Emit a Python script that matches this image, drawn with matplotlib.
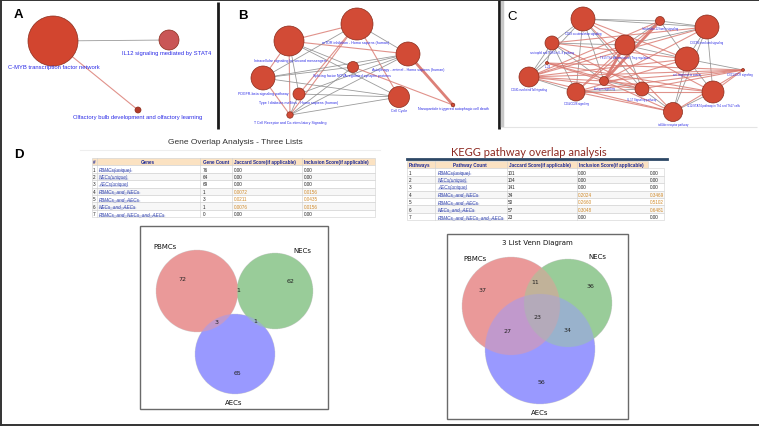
import numpy as np
import matplotlib.pyplot as plt
from matplotlib.patches import Circle, Rectangle

# ---------------- DATA ----------------
# Panel A network
a_names = ["C-MYB transcription factor network",
           "IL12 signaling mediated by STAT4",
           "Olfactory bulb development and olfactory learning"]
a_edges = [(0, 1, 'g'), (0, 2, 'r')]

# Panel B network
b_names = ["mTOR inhibition - Homo sapiens (human)",
           "Intracellular signaling by second messengers",
           "Autophagy - animal - Homo sapiens (human)",
           "PDGFR-beta signaling pathway",
           "Splicing factor NOVA regulated synaptic proteins",
           "Type I diabetes mellitus - Homo sapiens (human)",
           "Cell Cycle",
           "T Cell Receptor and Co-stimulatory Signaling",
           "Nanoparticle triggered autophagic cell death"]
b_edges = [(1, 0, 'r'), (1, 2, 'r'), (0, 2, 'g'), (1, 3, 'r'), (1, 7, 'r'), (1, 5, 'g'),
           (1, 6, 'g'), (1, 4, 'g'), (0, 7, 'r'), (0, 5, 'r'), (0, 6, 'r'), (2, 3, 'g'),
           (2, 4, 'g'), (2, 8, 'R'), (2, 5, 'g'), (2, 7, 'g'), (3, 7, 'r'), (3, 6, 'g'),
           (3, 4, 'g'), (4, 8, 'r'), (5, 6, 'g'), (7, 6, 'g'), (7, 4, 'g'), (5, 7, 'g'),
           (0, 3, 'g')]

# Panel C network
c_names = ["CD28 co-stimulation signaling",
           "neutrophil and TLR4 in IL-8 pathway",
           "Th17/Th1 differentiation / Treg regulation",
           "Interleukin-12 family signaling",
           "CXCR4 mediated signaling",
           "cell migration in cancer",
           "CD40-mediated/Toll signaling",
           "IL-23",
           "Antigen signaling",
           "CD4/CD28 signaling",
           "IL-17 Signaling pathway",
           "IL12/STAT4 pathway in Th1 and Th17 cells",
           "toll-like receptor pathway",
           "CXCL/CCR signaling"]
c_edges = [(0, 1, 'g'), (0, 3, 'g'), (0, 4, 'g'), (0, 6, 'g'), (0, 9, 'g'), (0, 8, 'g'),
           (1, 6, 'g'), (1, 7, 'g'), (1, 2, 'g'), (1, 9, 'g'), (3, 4, 'g'), (3, 5, 'g'),
           (4, 5, 'g'), (4, 11, 'g'), (4, 12, 'g'), (5, 11, 'g'), (5, 12, 'g'), (5, 13, 'g'),
           (6, 9, 'g'), (6, 7, 'g'), (2, 5, 'g'), (2, 4, 'g'), (8, 10, 'g'), (10, 12, 'g'),
           (11, 12, 'g'), (9, 10, 'g'), (1, 8, 'g'), (0, 10, 'g'), (3, 2, 'g'), (2, 10, 'g'),
           (0, 2, 'r'), (2, 8, 'R'), (3, 8, 'R'), (2, 9, 'r'), (0, 5, 'r'), (1, 4, 'r'),
           (1, 5, 'r'), (6, 2, 'r'), (6, 8, 'r'), (6, 10, 'r'), (6, 12, 'r'), (6, 13, 'r'),
           (7, 13, 'r'), (7, 8, 'r'), (7, 10, 'r'), (9, 12, 'r'), (9, 13, 'r'), (8, 13, 'r'),
           (8, 12, 'r'), (8, 11, 'r'), (10, 13, 'r'), (11, 13, 'r'), (3, 9, 'r'), (3, 6, 'r'),
           (4, 8, 'r'), (4, 6, 'r'), (5, 6, 'r'), (5, 9, 'r'), (2, 11, 'r'), (9, 11, 'r'),
           (0, 12, 'r'), (12, 13, 'r'), (7, 11, 'r'), (1, 10, 'r')]

# Panel D tables
gene_sets = ["PBMCs(unique)", "NECs(unique)", "AECs(unique)", "PBMCs_and_NECs",
             "PBMCs_and_AECs", "NECs_and_AECs", "PBMCs_and_NECs_and_AECs"]
gene_counts = [76, 64, 69, 1, 3, 1, 0]
gene_jaccard = ["0.00", "0.00", "0.00", "0.0072", "0.0211", "0.0076", "0.00"]
gene_inclusion = ["0.00", "0.00", "0.00", "0.0156", "0.0435", "0.0156", "0.00"]

kegg_sets = gene_sets
kegg_counts = [101, 104, 141, 34, 50, 57, 23]
kegg_jaccard = ["0.00", "0.00", "0.00", "0.2024", "0.2660", "0.3048", "0.00"]
kegg_inclusion = ["0.00", "0.00", "0.00", "0.3469", "0.5102", "0.6481", "0.00"]

# Venn diagrams: regions order A-only, B-only, AB, C-only, AC, BC, ABC
venn_sets = ["PBMCs", "NECs", "AECs"]
gene_venn = [72, 62, 1, 65, 3, 1, 0]
kegg_venn = [37, 36, 11, 56, 27, 34, 23]

# ---------------- LAYOUT ----------------
W, H = 759, 427
fig = plt.figure(figsize=(W / 100, H / 100), dpi=100)
ax = fig.add_axes([0, 0, 1, 1])
ax.set_xlim(0, W)
ax.set_ylim(H, 0)
ax.set_aspect('auto')
ax.axis('off')

SANS = 'Liberation Sans'
LBL = '#2a2ae6'
NODE = '#d24b36'
NODE_EDGE = '#8a2c1c'
EDGE_STYLE = {'g': dict(color='#8a8a8a', lw=0.6, alpha=0.85),
              'r': dict(color='#d9776e', lw=0.8, alpha=0.8),
              'R': dict(color='#d66a60', lw=2.0, alpha=0.85)}


def draw_network(pos, rad, lblpos, names, edges, fs, colors=None):
    for i, j, s in edges:
        ax.plot([pos[i][0], pos[j][0]], [pos[i][1], pos[j][1]], zorder=2,
                solid_capstyle='round', **EDGE_STYLE[s])
    for k, ((x, y), r) in enumerate(zip(pos, rad)):
        c = colors[k] if colors else NODE
        ax.add_patch(Circle((x, y), r, facecolor=c, edgecolor=NODE_EDGE, lw=0.5, zorder=3))
    for (x, y), t in zip(lblpos, names):
        ax.text(x, y, t, fontsize=fs, family=SANS, color=LBL, ha='center', va='center', zorder=4)


# Panel A
a_pos = [(53, 42), (169, 41), (138, 111)]
a_rad = [25, 10, 3]
a_lbl = [(54, 68), (167, 54), (138, 117.5)]
draw_network(a_pos, a_rad, a_lbl, a_names, a_edges, 4.2,
             colors=['#d2452f', '#c95656', '#b33a2a'])

# Panel B
b_pos = [(357, 25), (289, 42), (408, 55), (263, 79), (353, 68), (299, 95), (399, 98),
         (290, 116), (453, 106)]
b_rad = [16, 15, 12, 12, 5.5, 6, 10.5, 3.2, 1.8]
b_lbl = [(356, 43), (290, 61), (408, 70), (263, 94), (352, 76), (299, 103), (399, 111),
         (290, 123), (453, 109)]
draw_network(b_pos, b_rad, b_lbl, b_names, b_edges, 2.6)

# Panel C
c_pos = [(583, 20), (552, 44), (625, 46), (660, 22), (707, 28), (687, 60), (529, 78),
         (547, 64), (604, 82), (576, 93), (642, 90), (713, 93), (673, 113), (743, 71)]
c_rad = [12, 7, 10, 4.5, 12, 12, 10, 1.5, 4.5, 9, 7, 11, 9.5, 1.5]
c_lbl = [(583, 34), (552, 53), (625, 58), (660, 29), (707, 43), (687, 75), (529, 90),
         (548, 67.5), (604, 89), (576, 104), (642, 100), (713, 106), (673, 125), (740, 75)]
draw_network(c_pos, c_rad, c_lbl, c_names, c_edges, 2.0)

# panel letters
ax.text(18, 15, "A", fontsize=9.5, fontweight='bold', family=SANS, ha='center', va='center')
ax.text(243, 16, "B", fontsize=9.5, fontweight='bold', family=SANS, ha='center', va='center')
ax.text(512, 17, "C", fontsize=9.5, family=SANS, ha='center', va='center')
ax.text(19, 155, "D", fontsize=9.5, fontweight='bold', family=SANS, ha='center', va='center')

# dividers and frames
ax.plot([218, 218], [3, 130], color='#1a1a1a', lw=2, solid_capstyle='butt')
ax.plot([498.5, 498.5], [0, 130], color='#1a1a1a', lw=2, solid_capstyle='butt')
ax.plot([502, 502], [0, 128], color='#c8c8c8', lw=2.5, solid_capstyle='butt')
ax.plot([503, 757], [128, 128], color='#e4e4e4', lw=0.8, solid_capstyle='butt')
for xs_, ys_ in [([0.8, 0.8], [0, H]), ([0, W], [0.8, 0.8]), ([0, W], [H - 0.8, H - 0.8])]:
    ax.plot(xs_, ys_, color='#333333', lw=1.4, solid_capstyle='butt')

# ---------------- TABLES ----------------
HDR_BG = '#fbe2c2'
HDR_TX = '#1e2a96'
GRID = '#cfcfcf'
ORANGE = '#d08a2a'
LINK = '#3a4bb0'
TFS = 3.3
link_texts = []


def draw_table(x_edges, y0, rh, headers, hdr_pos, rows_text, col_x, ext_right=None):
    right = ext_right if ext_right else x_edges[-1]
    nrows = len(rows_text)
    ax.add_patch(Rectangle((x_edges[0], y0), x_edges[-1] - x_edges[0], rh,
                           facecolor=HDR_BG, edgecolor=GRID, lw=0.4, zorder=1))
    for h, (hx, ha) in zip(headers, hdr_pos):
        ax.text(hx, y0 + rh / 2, h, fontsize=TFS, fontweight='bold', family=SANS,
                color=HDR_TX, ha=ha, va='center', zorder=3)
    for r in range(nrows):
        yy = y0 + rh * (r + 1)
        ax.add_patch(Rectangle((x_edges[0], yy), right - x_edges[0], rh,
                               facecolor='white' if r % 2 == 0 else '#f7f7f7',
                               edgecolor=GRID, lw=0.4, zorder=1))
        for c, (cx, txt) in enumerate(zip(col_x, rows_text[r])):
            if c == 1:
                t = ax.text(cx, yy + rh / 2, txt, fontsize=TFS, family=SANS, style='italic',
                            color=LINK, ha='left', va='center', zorder=3)
                link_texts.append(t)
            else:
                col = ORANGE if (c >= 3 and r in (3, 4, 5)) else '#222222'
                ax.text(cx, yy + rh / 2, txt, fontsize=TFS, family=SANS, color=col,
                        ha='left', va='center', zorder=3)
    for xe in x_edges[1:-1]:
        ax.plot([xe, xe], [y0, y0 + rh * (nrows + 1)], color=GRID, lw=0.4, zorder=2)


# Table 1
ax.text(235, 143, "Gene Overlap Analysis - Three Lists", fontsize=6, family=SANS,
        color='#333333', ha='center', va='center')
ax.plot([80, 380], [151, 151], color='#eeeeee', lw=0.8)
t1_x = [92, 97, 200, 232, 302, 375]
t1_rows = [[str(i + 1), gene_sets[i], str(gene_counts[i]), gene_jaccard[i], gene_inclusion[i]]
           for i in range(len(gene_sets))]
draw_table(t1_x, 159, 7.4, ["#", "Genes", "Gene Count", "Jaccard Score(if applicable)",
                            "Inclusion Score(if applicable)"],
           [(93, 'left'), (148, 'center'), (203, 'left'), (233.5, 'left'), (303.5, 'left')],
           t1_rows, [93, 99, 203, 233.5, 303.5])

# Table 2
ax.text(529, 153, "KEGG pathway overlap analysis", fontsize=8, family='Lato',
        color='#8e2a22', ha='center', va='center')
ax.plot([407, 667], [159.5, 159.5], color='#2d4766', lw=2)
t2_x = [407, 435, 507, 577, 648]
t2_rows = [[str(i + 1), kegg_sets[i], str(kegg_counts[i]), kegg_jaccard[i], kegg_inclusion[i]]
           for i in range(len(kegg_sets))]
draw_table(t2_x, 162, 7.4, ["Pathways", "Pathway Count", "Jaccard Score(if applicable)",
                            "Inclusion Score(if applicable)"],
           [(409, 'left'), (470, 'center'), (509, 'left'), (579, 'left')],
           t2_rows, [409, 438, 508, 578, 650], ext_right=664)

# underline link texts
fig.canvas.draw()
rend = fig.canvas.get_renderer()
inv = ax.transData.inverted()
for t in link_texts:
    bb = t.get_window_extent(rend)
    (x0, y0), (x1, y1) = inv.transform([(bb.x0, bb.y0), (bb.x1, bb.y1)])
    ax.plot([x0, x1], [y0 - 0.4, y0 - 0.4], color=LINK, lw=0.3, zorder=3)

# ---------------- VENN ----------------
SET_COLORS = np.array([[0.8, 0, 0], [0, 0.5, 0], [0, 0, 1]], float)


def draw_venn(box, circles, counts, label_pos, set_lbl_pos, title=None):
    bx0, by0, bx1, by1 = box
    ax.add_patch(Rectangle((bx0, by0), bx1 - bx0, by1 - by0, fill=False,
                           edgecolor='#6a6a6a', lw=1.0, zorder=5))
    xs = np.arange(bx0, bx1, 0.25) + 0.125
    ys = np.arange(by0, by1, 0.25) + 0.125
    X, Y = np.meshgrid(xs, ys)
    masks = [((X - cx) ** 2 + (Y - cy) ** 2) <= r ** 2 for cx, cy, r in circles]
    m = np.stack(masks, axis=-1).astype(float)
    n = m.sum(axis=-1)
    mix = (m[..., :, None] * SET_COLORS[None, None]).sum(axis=2) / np.maximum(n, 1)[..., None]
    rgb = 0.6 + 0.4 * mix
    img = np.dstack([rgb, (n > 0).astype(float)])
    ax.imshow(img, extent=(bx0, bx1, by1, by0), origin='upper', interpolation='antialiased',
              aspect='auto', zorder=2)
    for (lx, ly), v in zip(label_pos, counts):
        if lx is None:
            continue
        ax.text(lx, ly, str(v), fontsize=4.5, color='#222222', ha='center', va='center',
                family='DejaVu Sans', zorder=6)
    for (sx, sy), s in zip(set_lbl_pos, venn_sets):
        ax.text(sx, sy, s, fontsize=5, color='#111111', ha='center', va='center',
                family='DejaVu Sans', zorder=6)
    if title:
        ax.text((bx0 + bx1) / 2, by0 + 8, title, fontsize=5, color='#111111',
                ha='center', va='center', family='DejaVu Sans', zorder=6)


draw_venn((140, 227, 328, 410),
          [(197, 292, 41), (275, 292, 38), (235, 355, 40)],
          gene_venn,
          [(182, 280), (291, 282), (238, 291), (237, 374), (217, 323), (255, 322), (None, None)],
          [(165, 247), (302, 251), (234, 403)])

draw_venn((447, 235, 628, 420),
          [(511, 307, 49), (568, 304, 44), (540, 350, 55)],
          kegg_venn,
          [(483, 291), (590, 287), (535, 283), (541, 383), (507, 332), (568, 331), (537, 318)],
          [(475, 259), (597, 257), (540, 413)],
          title="3 List Venn Diagram")

ax.set_xlim(0, W)
ax.set_ylim(H, 0)
fig.savefig("out.png", dpi=100)
